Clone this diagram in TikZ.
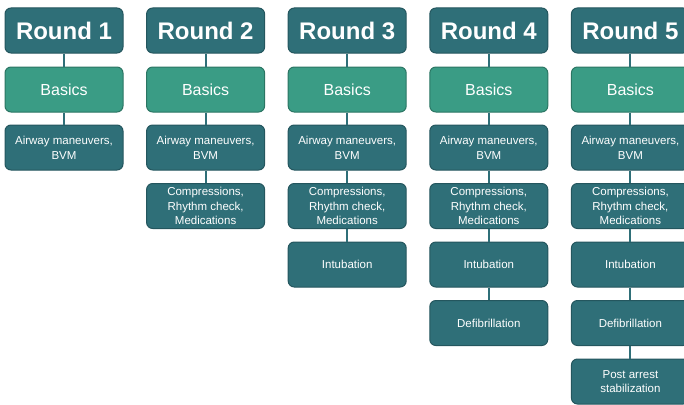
\documentclass[tikz,border=0pt]{standalone}
\usepackage{fontspec}
\setmainfont{Liberation Sans}
\definecolor{tealdark}{HTML}{2F6F78}
\definecolor{tealborder}{HTML}{24565E}
\definecolor{greenfill}{HTML}{3A9C85}
\definecolor{greenborder}{HTML}{2B7563}
\begin{document}
\begin{tikzpicture}[x=1pt,y=-1pt,
  box/.style={draw=tealborder,line width=1pt,rounded corners=6pt,minimum width=118pt,minimum height=45pt,inner sep=0pt,align=center,text=white},
  hdr/.style={box,fill=tealdark,font=\fontsize{24}{28}\selectfont\bfseries},
  basic/.style={box,draw=greenborder,fill=greenfill,font=\fontsize{16}{19}\selectfont},
  item/.style={box,fill=tealdark,font=\fontsize{11.5}{14.8}\selectfont},
  link/.style={draw=tealdark,line width=2pt}]
\useasboundingbox (0,0) rectangle (684,404);
\clip (0,0) rectangle (684,404);
\def\itemA{Airway maneuvers,\\BVM}
\def\itemB{Compressions,\\Rhythm check,\\Medications}
\def\itemC{Intubation}
\def\itemD{Defibrillation}
\def\itemE{Post arrest\\stabilization}
\foreach \j/\cx in {1/64,2/205.6,3/347.2,4/488.8,5/630.4}{
  \node[hdr] (h\j) at (\cx,30.5) {Round \j};
  \node[basic] (b\j) at (\cx,89.5) {Basics};
  \draw[link] (h\j.south) -- (b\j.north);
}
% items
\foreach \j/\cx in {1/64,2/205.6,3/347.2,4/488.8,5/630.4}{
  \node[item] (a\j) at (\cx,147.5) {\itemA};
  \draw[link] (b\j.south) -- (a\j.north);
}
\foreach \j/\cx in {2/205.6,3/347.2,4/488.8,5/630.4}{
  \node[item] (c\j) at (\cx,206) {\itemB};
  \draw[link] (a\j.south) -- (c\j.north);
}
\foreach \j/\cx in {3/347.2,4/488.8,5/630.4}{
  \node[item] (i\j) at (\cx,264.5) {\itemC};
  \draw[link] (c\j.south) -- (i\j.north);
}
\foreach \j/\cx in {4/488.8,5/630.4}{
  \node[item] (d\j) at (\cx,323) {\itemD};
  \draw[link] (i\j.south) -- (d\j.north);
}
\node[item] (p5) at (630.4,381.5) {\itemE};
\draw[link] (d5.south) -- (p5.north);
\end{tikzpicture}
\end{document}
